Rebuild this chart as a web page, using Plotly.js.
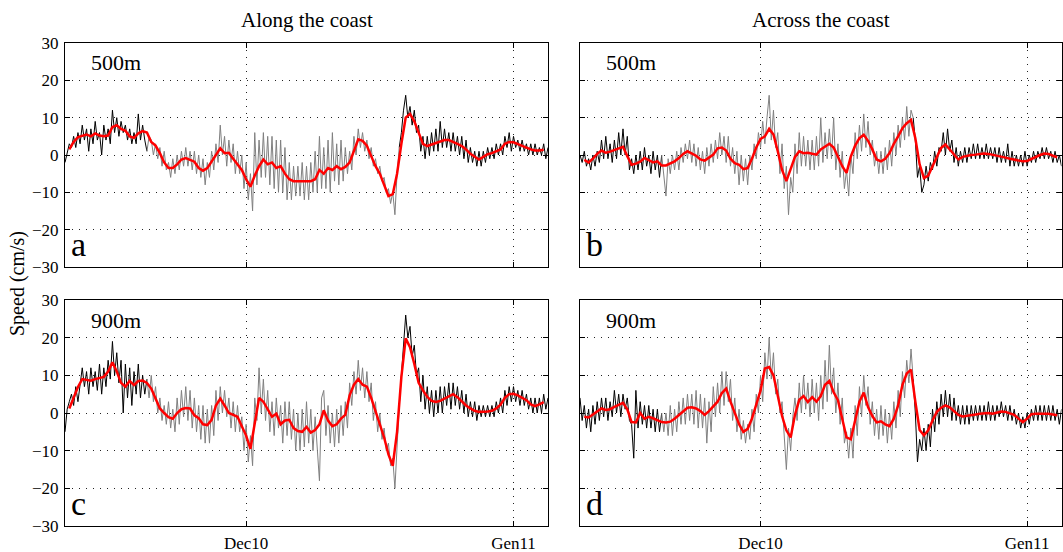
<!DOCTYPE html>
<html><head><meta charset="utf-8">
<script src="https://cdn.plot.ly/plotly-3.0.1.min.js"></script>
<style>html,body{margin:0;padding:0;background:#fff}#chart{width:1063px;height:552px}</style>
</head><body><div id="chart"></div>
<script>
// ---- data ----
const rawStart = '2010-11-10 00:00';   // first raw sample
const rawStepHours = 6;
const smoothStart = '2010-11-10 12:00';
const smoothStepHours = 12;
const grayFrom = 38, grayTo = 155;     // raw sample indices of the highlighted (grey) period
const xRange = ['2010-11-10 00:00', '2011-01-05 00:00'];
const tickVals = ['2010-12-01', '2011-01-01'];
const tickText = ['Dec10', 'Gen11'];
const yTicks = [-30, -20, -10, 0, 10, 20, 30];
const columnTitles = ['Along the coast', 'Across the coast'];
const yTitle = 'Speed (cm/s)';
const depthLabels = ['500m', '500m', '900m', '900m'];
const panelLetters = ['a', 'b', 'c', 'd'];

const aRaw = [-2,1,3,2, 5,2,6,3, 8,4,7,1, 7,3,9,4, 6,0,8,4, 7,3,12,6, 10,5,9,6, 8,4,7,3, 6,3,11,4, 8,4,1,5,
 4,0,3,-1, 2,-3,1,-4, -2,-6,-1,-5, 0,-4,1,-3, 2,-3,1,-4, 1,-5,0,-6, -1,-8,-2,-6, 1,-4,3,-2, 8,0,5,-3, 4,-2,3,-5,
 1,-5,0,-9, -2,-12,-5,-15, 6,-8,4,-6, 6,-6,5,-8, 5,-9,4,-10, 4,-10,2,-12, -2,-12,-3,-11, -3,-11,-2,-12, -3,-12,-2,-10, 1,-10,5,-9,
 2,-9,4,-10, 6,-7,3,-8, 4,-7,2,-5, 1,-4,5,0, 7,2,6,1, 4,-1,2,-3, -1,-5,-3,-7, -6,-10,-9,-13, -10,-16,-5,2, 6,12,16,10,
 13,8,12,6, 8,1,5,-1, 5,0,6,1, 7,1,9,2, 7,2,6,1, 6,1,5,0, 5,-1,4,-2, 2,-2,1,-3, 1,-3,1,-2, 2,-1,2,-1,
 3,0,3,0, 5,2,6,1, 5,2,4,1, 4,1,3,0, 3,0,3,0, 2,0,3,-1, 2];
const aSmooth = [1.5,3.5,4.8,5.2,5.5,5,5.8,5.2,5,5.2,7.5,8,7,6.5,5,4.6,5.8,6.4,6,3.5,
 2.5,0.5,-2,-3.5,-3.5,-2.5,-1.2,-0.8,-1.2,-1.8,-3.5,-4.2,-3.5,-1.8,-0.2,1.8,0.5,0.6,-1,-2.5,-4,-6.5,
 -8.5,-5.5,-3,-1.2,-2.5,-2,-3.5,-3,-5,-6.5,-7,-7,-7,-7,-7,-6.5,-4,-5,-3.5,-4,
 -3,-3.8,-3.2,-2,1,4.2,3.8,2.5,-0.3,-3,-5,-8,-11,-10.5,-5,3,10,11,9,6,
 3,2.4,2.8,3.2,3.8,4,4,3.6,3,2.4,1.5,0.3,-0.5,-1.2,-0.5,0.2,0.5,1,1.5,3,3.5,3.4,3,2.4,2,1.5,1.2,1.2,1.4];

const bRaw = [0,-2,1,-3, -1,-4,0,-3, 1,-2,4,-1, 5,-1,3,-2, 4,-1,6,0, 7,0,5,-4, -1,-5,0,-4, 1,-4,2,-3, 0,-5,1,-4, 0,-6,0,-5,
 -11,-1,-5,0, -4,1,-4,2, -2,3,-1,4, -2,3,-3,2, -4,1,-5,2, -3,3,-2,4, -1,6,0,5, -2,5,-3,2, -5,1,-8,0, -7,-1,-8,0,
 -4,3,-1,6, 2,9,3,10, 16,4,12,2, 6,-5,3,-9, -3,-16,-6,-10, 3,-5,6,-3, 5,-3,4,-4, 4,-4,5,-3, 10,-2,6,-1, 7,-1,10,-4,
 3,-6,1,-9, -4,-11,0,-5, 6,-1,8,1, 11,2,9,0, 4,-3,1,-5, 1,-5,2,-4, 4,-3,6,0, 8,2,10,4, 13,5,12,10, 4,-6,-3,-10,
 -8,-3,-7,-2, -4,1,-3,2, 1,6,0,7, 1,4,-2,2, -3,1,-2,2, -2,2,-1,3, -1,3,-1,2, -1,3,-1,2, -1,2,-2,2, -2,1,-2,3,
 -3,1,-3,0, -3,0,-3,1, -3,0,-2,1, -2,1,-1,2, -1,2,-1,1, -2,1,-2,0, -3];
const bSmooth = [-1.3,-2,-1,0.3,1.2,0.6,0.9,1.3,1.8,2.2,-0.3,-2.6,-2.3,-1.8,-0.8,-1.5,-2,-1.7,-2.8,-2.8,
 -2.3,-1.7,-0.8,0.3,1,0.3,-0.2,-1.2,-1.5,-0.7,0.1,1.8,2,1.2,-1,-2.2,-2.6,-3.8,-3.5,-1,2,4.3,
 5,7,5.5,1,-4,-7,-4,-0.5,1,0.5,0.6,0.3,0.1,1.5,2.3,3,2,-0.5,-3,-4.8,
 -0.4,2.5,4.5,5.4,3.8,1.5,-1.2,-1.7,-1,0.5,3,5,7.2,8.5,9.4,4.5,-2.5,-6.2,-5.5,-3,
 -0.5,1.9,2.8,1.5,0,-1.2,-0.5,-0.2,0,0.1,0.3,0.4,0.3,0.1,-0.1,-0.4,-0.7,-1,-1.2,-1.5,-1.7,-1.6,-1,-0.5,0,0.4,0.3,-0.2,-0.6];

const cRaw = [-5,1,3,5, 2,7,3,8, 12,7,11,5, 12,7,11,6, 13,5,12,7, 14,9,19,10, 16,8,14,0, 13,4,12,2, 11,5,13,4, 10,5,9,4,
 10,3,7,0, 4,-2,2,-3, 3,-4,1,-5, 4,-3,6,-1, 7,-2,6,-4, 4,-5,2,-7, 2,-8,1,-8, 2,-6,6,-2, 7,0,6,-1, 4,-4,3,-5,
 2,-5,-1,-10, -3,-13,-6,-14, 4,-2,12,0, 9,-2,6,-5, 3,-6,4,-4, 2,-8,3,-6, 3,-7,1,-10, 0,-10,1,-9, 3,-8,1,-10, -1,-9,-18,4,
 6,-6,2,-8, 0,-9,1,-8, 2,-6,3,-4, 8,2,11,5, 14,6,12,4, 11,3,8,-2, 3,-5,0,-7, -4,-10,-8,-14, -12,-20,-8,2, 10,17,26,20,
 23,15,18,10, 12,3,10,1, 7,0,6,-1, 6,0,7,0, 7,2,8,1, 8,2,7,1, 6,0,5,-1, 3,-1,3,-2, 2,-1,2,-1, 2,-1,2,-1,
 3,0,4,0, 6,2,7,3, 7,3,6,2, 6,2,5,1, 4,0,4,0, 4,0,5,1, 4];
const cSmooth = [1.2,4,6.9,9,8.8,8.6,9,9.2,9.6,11,13.5,11,8,7,8.5,7.4,8.5,8.6,8,6.5,
 4,1.2,0,-1.1,-1.5,0,1,1.3,1.2,-0.6,-1.4,-3,-3.2,-1.8,2,3.8,2,0,-0.5,-1,-3.5,-6,
 -9.5,-2.8,4,3,1,-1,-0.2,-3,-2,-1.8,-4,-4.8,-5,-3.7,-5.2,-4.5,-3,0.7,-2,-3.5,
 -3,-1.5,-0.5,4.7,7.5,9,7.5,7,4,0.5,-3,-6.5,-11,-14,-5,9.6,19.8,17.5,13,8,
 6,4.3,3.2,2.9,3.2,3.8,4.6,5,4.2,3,2,1.2,0.6,0.3,0.3,0.4,0.6,1.2,2.2,4,5,5.1,4.7,4,3.4,2.3,1.8,2.3,2.9];

const dRaw = [4,-2,2,-4, 1,-5,2,-3, 3,-2,4,-1, 4,-2,3,-1, 6,0,5,-1, 5,1,4,-2, -3,-12,6,-4, 3,-3,2,-4, 2,-4,1,-5, 1,-5,0,-5,
 0,-6,2,-6, 1,-5,3,-3, 4,-3,5,-2, 5,-3,6,-4, 5,-4,4,-8, 3,-5,7,-1, 8,0,11,2, 11,3,9,-2, 4,-5,1,-7, -2,-8,-3,-7,
 1,-5,5,0, 10,3,16,9, 20,9,16,5, 9,0,3,-5, -15,-4,-10,-1, 4,-2,8,0, 10,1,8,-1, 9,0,8,-2, 10,1,14,3, 18,5,12,0,
 8,-3,4,-8, -5,-12,-4,-12, 2,-6,7,-1, 10,2,7,-3, 3,-6,1,-7, 2,-6,1,-8, 0,-7,3,-4, 6,-1,11,4, 14,8,17,9, 0,-13,-7,-10,
 -4,-10,-3,-9, 1,-5,3,-3, 5,-1,6,-1, 5,-2,4,-2, 2,-3,2,-3, 2,-3,2,-2, 2,-2,2,-2, 2,-2,3,-2, 2,-2,2,-1, 3,-1,2,-2,
 2,-2,1,-3, 0,-4,-1,-4, 0,-3,1,-2, 2,-2,2,-2, 2,-2,2,-2, 2,-2,1,-3, 1];
const dSmooth = [-1,-1.2,-0.4,0.3,1.2,0.8,1,1.6,2.2,2.7,1,-2.4,-2.5,0,-1.5,-1,-1.4,-2,-2.4,-2.5,
 -2.3,-1.5,-0.6,0.3,1.4,1.5,1.2,0.5,-0.5,0.5,1.8,3,5.3,6.5,3,0,-3,-5,-4.2,-1.5,2.5,6,
 11.8,12.2,10,4.5,-0.8,-4.6,-6.5,-0.5,3.5,4.5,2.9,4.2,3,4.5,7.5,8.5,5.5,3.4,-1.5,-6.5,
 -7,-2,3,5.4,1.6,-0.8,-2.5,-2.2,-3,-3.5,-1.5,2,7.5,10.5,11.5,3,-4.5,-5.9,-4.6,-2,
 0.3,1.4,2,1.5,0.5,-0.5,-0.9,-0.8,-0.6,-0.4,-0.2,0,0,-0.2,0,0.4,0.3,0,-0.5,-1.5,-2.4,-1.5,-0.3,-0.2,-0.2,-0.2,-0.2,-0.4,-0.6];

// ---- helpers ----
function pad(n){return (n<10?'0':'')+n;}
function timeAxis(start, stepH, n){
  const t0 = Date.parse(start.replace(' ','T')+':00Z');
  const out = [];
  for (let i=0;i<n;i++){
    const d = new Date(t0 + i*stepH*3600000);
    out.push(d.getUTCFullYear()+'-'+pad(d.getUTCMonth()+1)+'-'+pad(d.getUTCDate())+' '+pad(d.getUTCHours())+':'+pad(d.getUTCMinutes()));
  }
  return out;
}
const W = 1063, H = 552;
const FONT = 'Liberation Serif, Times New Roman, DejaVu Serif, serif';
const px = x => x / W;
const py = y => 1 - y / H;
// panel boxes in pixels: [left, right, top, bottom]
const boxes = [[65,548,43,267],[580,1061.5,43,267],[65,548,300,526],[580,1061.5,300,526]];
const raws = [aRaw, bRaw, cRaw, dRaw];
const smooths = [aSmooth, bSmooth, cSmooth, dSmooth];

const traces = [];
const layout = {
  width: W, height: H, margin: {l:0,r:0,t:0,b:0},
  paper_bgcolor: '#fff', plot_bgcolor: '#fff', showlegend: false,
  font: {family: FONT, color: '#000', size: 17},
  annotations: []
};

for (let p=0;p<4;p++){
  const sfx = p===0 ? '' : String(p+1);
  const xa = 'x'+sfx, ya = 'y'+sfx;
  const raw = raws[p], sm = smooths[p];
  const tr = timeAxis(rawStart, rawStepHours, raw.length);
  const ts = timeAxis(smoothStart, smoothStepHours, sm.length);
  // black (outside the grey period)
  const bx = [], by = [];
  for (let i=0;i<=grayFrom;i++){bx.push(tr[i]); by.push(raw[i]);}
  bx.push(null); by.push(null);
  for (let i=grayTo;i<raw.length;i++){bx.push(tr[i]); by.push(raw[i]);}
  traces.push({x:bx, y:by, xaxis:xa, yaxis:ya, type:'scatter', mode:'lines', connectgaps:false,
               line:{color:'#000', width:1}, hoverinfo:'skip'});
  traces.push({x:tr.slice(grayFrom, grayTo+1), y:raw.slice(grayFrom, grayTo+1), xaxis:xa, yaxis:ya,
               type:'scatter', mode:'lines', line:{color:'#808080', width:1}, hoverinfo:'skip'});
  traces.push({x:ts, y:sm, xaxis:xa, yaxis:ya, type:'scatter', mode:'lines',
               line:{color:'#ff0000', width:2.5}, hoverinfo:'skip'});

  const [l,r,t,b] = boxes[p];
  const common = {showline:true, linecolor:'#000', linewidth:1, mirror:'ticks', ticks:'inside', ticklen:5,
                  tickcolor:'#000', showgrid:true, gridcolor:'#222', gridwidth:1, griddash:'1px,6px',
                  zeroline:false, tickfont:{family:FONT, size:17, color:'#000'}, fixedrange:true};
  layout['xaxis'+sfx] = Object.assign({}, common, {
    domain:[px(l), px(r)], anchor: ya, type:'date', range: xRange,
    tickmode:'array', tickvals: tickVals, ticktext: tickText, showticklabels: p>=2, ticklabelstandoff: 2
  });
  layout['yaxis'+sfx] = Object.assign({}, common, {
    domain:[py(b), py(t)], anchor: xa, range:[-30,30],
    tickmode:'array', tickvals: yTicks, showticklabels: p%2===0, ticklabelstandoff: 2
  });
  // depth label
  layout.annotations.push({xref:'paper', yref:'paper', x: px(l+24), y: py(t+20), xanchor:'left', yanchor:'middle',
    text: depthLabels[p], showarrow:false, font:{family:FONT, size:22, color:'#000'}});
  // panel letter
  layout.annotations.push({xref:'paper', yref:'paper', x: px(l+4), y: py(b-2), xanchor:'left', yanchor:'bottom',
    text: panelLetters[p], showarrow:false, font:{family:FONT, size:34, color:'#000'}});
}
layout.annotations.push({xref:'paper', yref:'paper', x: px(306.5), y: py(20), xanchor:'center', yanchor:'middle',
  text: columnTitles[0], showarrow:false, font:{family:FONT, size:21, color:'#000'}});
layout.annotations.push({xref:'paper', yref:'paper', x: px(821), y: py(20), xanchor:'center', yanchor:'middle',
  text: columnTitles[1], showarrow:false, font:{family:FONT, size:21, color:'#000'}});
layout.annotations.push({xref:'paper', yref:'paper', x: px(17), y: py(284), xanchor:'center', yanchor:'middle',
  text: yTitle, textangle:-90, showarrow:false, font:{family:FONT, size:20, color:'#000'}});

Plotly.newPlot('chart', traces, layout, {displayModeBar:false, staticPlot:true});
</script></body></html>
